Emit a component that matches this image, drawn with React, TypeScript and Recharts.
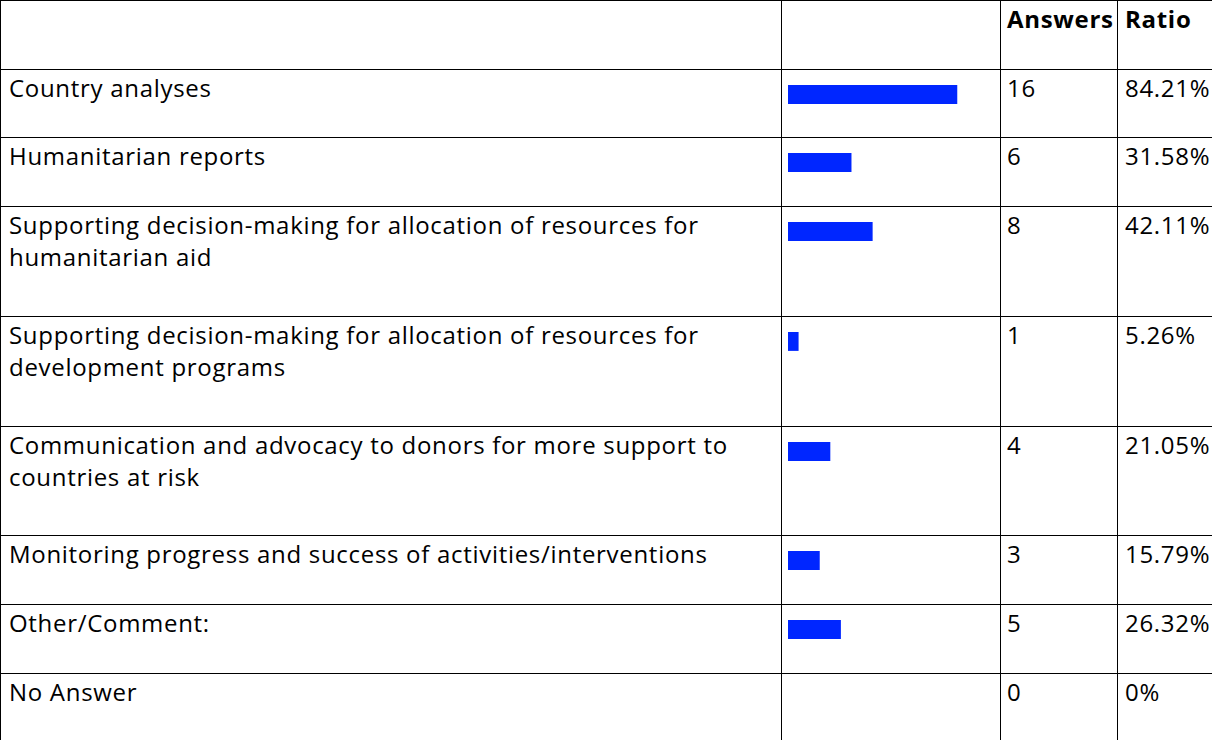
import { BarChart, Bar, XAxis, YAxis } from 'recharts';

const categories = [
  'Country analyses',
  'Humanitarian reports',
  'Supporting decision-making for allocation of resources for\nhumanitarian aid',
  'Supporting decision-making for allocation of resources for\ndevelopment programs',
  'Communication and advocacy to donors for more support to\ncountries at risk',
  'Monitoring progress and success of activities/interventions',
  'Other/Comment:',
  'No Answer',
];
const answers = [16, 6, 8, 1, 4, 3, 5, 0];
const ratios = ['84.21%', '31.58%', '42.11%', '5.26%', '21.05%', '15.79%', '26.32%', '0%'];
const headers = ['', '', 'Answers', 'Ratio'];
const respondents = 19;

// layout
const rowHeights = [69, 68, 69, 110, 110, 109, 69, 69, 68];
const colWidths = [781, 219, 117, 140];
const border = '1px solid #000';
const barColor = '#0026ff';

function RowBar({ value }: { value: number }) {
  const data = [{ name: 'v', value }];
  return (
    <div style={{ marginTop: 14 }}>
      <BarChart
        width={218}
        height={21}
        layout="vertical"
        data={data}
        margin={{ top: 0, right: 11, bottom: 0, left: 6 }}
        barCategoryGap={0}
      >
        <XAxis type="number" domain={[0, respondents]} hide />
        <YAxis type="category" dataKey="name" hide />
        <Bar dataKey="value" fill={barColor} barSize={21} isAnimationActive={false} />
      </BarChart>
    </div>
  );
}

function Cell({ width, pad, children, bold }: { width: number; pad: number; children?: any; bold?: boolean }) {
  return (
    <div
      style={{
        width,
        flex: 'none',
        boxSizing: 'border-box',
        borderLeft: border,
        paddingLeft: pad,
        paddingTop: 2,
        whiteSpace: 'pre-line',
        fontWeight: bold ? 700 : 400,
        overflow: 'hidden',
      }}
    >
      {children}
    </div>
  );
}

export default function App() {
  return (
    <div
      style={{
        position: 'absolute',
        left: 0,
        top: 0,
        width: 1212,
        height: 740,
        overflow: 'hidden',
        background: '#fff',
        fontFamily: '"Open Sans", sans-serif',
        fontSize: 24,
        letterSpacing: '0.7px',
        lineHeight: '32.4px',
        color: '#000',
      }}
    >
      <div style={{ display: 'flex', height: rowHeights[0], boxSizing: 'border-box', borderTop: border }}>
        {headers.map((h, j) => (
          <Cell key={j} width={colWidths[j]} pad={j === 0 ? 8 : j === 2 ? 6 : 7} bold>
            {h}
          </Cell>
        ))}
      </div>
      {categories.map((c, i) => (
        <div
          key={c}
          style={{
            display: 'flex',
            height: rowHeights[i + 1],
            boxSizing: 'border-box',
            borderTop: border,
            borderBottom: i === categories.length - 1 ? border : undefined,
          }}
        >
          <Cell width={colWidths[0]} pad={8}>{c}</Cell>
          <div style={{ width: colWidths[1], flex: 'none', boxSizing: 'border-box', borderLeft: border }}>
            <RowBar value={answers[i]} />
          </div>
          <Cell width={colWidths[2]} pad={6}>{answers[i]}</Cell>
          <Cell width={colWidths[3]} pad={7}>{ratios[i]}</Cell>
        </div>
      ))}
    </div>
  );
}
